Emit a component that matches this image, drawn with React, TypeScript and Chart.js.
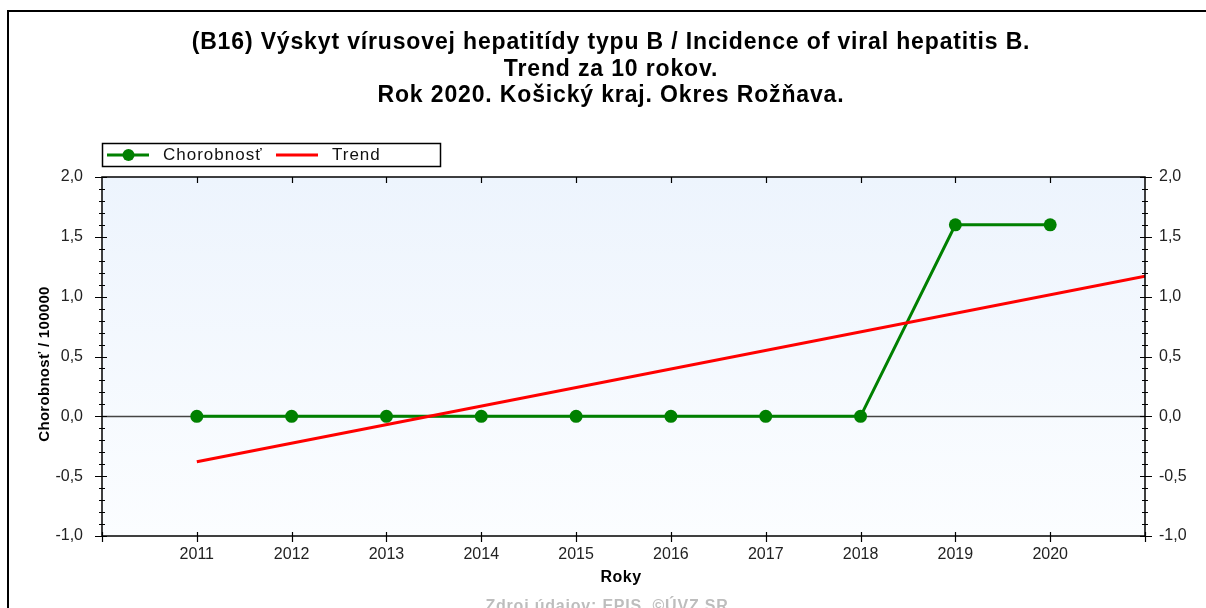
import React, { useEffect, useRef } from "react";
import { Chart, registerables } from "chart.js";

Chart.register(...registerables);

const titleLines = [
  "(B16) Výskyt vírusovej hepatitídy typu B / Incidence of viral hepatitis B.",
  "Trend za 10 rokov.",
  "Rok 2020. Košický kraj. Okres Rožňava.",
];
const years = [2011, 2012, 2013, 2014, 2015, 2016, 2017, 2018, 2019, 2020];
const incidence = [0, 0, 0, 0, 0, 0, 0, 0, 1.6, 1.6];
const trendYears = [2011, 2021];
const trendValues = [-0.38, 1.17];
const seriesNames = ["Chorobnosť", "Trend"];
const yAxisTitle = "Chorobnosť / 100000";
const xAxisTitle = "Roky";
const footerText = "Zdroj údajov: EPIS, ©ÚVZ SR";

const GREEN = "#008000";
const RED = "#FF0000";
const FONT = "'Liberation Sans', Arial, sans-serif";

const fmt = (v: number) => v.toFixed(1).replace(".", ",");

const decor = {
  id: "decor",
  beforeDatasetsDraw(chart: any) {
    const { ctx, chartArea } = chart;
    const { left, right, top, bottom } = chartArea;
    ctx.save();
    const g = ctx.createLinearGradient(0, top, 0, bottom);
    g.addColorStop(0, "#EDF4FD");
    g.addColorStop(1, "#FBFDFF");
    ctx.fillStyle = g;
    ctx.fillRect(left, top, right - left, bottom - top);
    const y0 = Math.round(chart.scales.y.getPixelForValue(0)) + 0.5;
    ctx.strokeStyle = "#444";
    ctx.lineWidth = 1.5;
    ctx.beginPath();
    ctx.moveTo(left, y0);
    ctx.lineTo(right, y0);
    ctx.stroke();
    ctx.restore();
  },
  afterDraw(chart: any) {
    const { ctx, chartArea } = chart;
    const { left, right, top, bottom } = chartArea;
    const ys = chart.scales.y;
    const xs = chart.scales.x;
    ctx.save();
    // outer frame
    ctx.strokeStyle = "#000";
    ctx.lineWidth = 2;
    ctx.beginPath();
    ctx.moveTo(8, 612);
    ctx.lineTo(8, 11);
    ctx.lineTo(1210, 11);
    ctx.stroke();

    // plot frame
    ctx.lineWidth = 1.5;
    ctx.strokeStyle = "#000";
    ctx.strokeRect(left, top, right - left, bottom - top);

    // y ticks (major every 0.5, minor every 0.1)
    ctx.lineWidth = 1.2;
    for (let i = -10; i <= 20; i++) {
      const v = i / 10;
      const py = Math.round(ys.getPixelForValue(v)) + 0.5;
      const major = i % 5 === 0;
      const len = major ? 7 : 3;
      ctx.beginPath();
      ctx.moveTo(left - len, py);
      ctx.lineTo(left + (major ? 5 : 3), py);
      ctx.moveTo(right - (major ? 5 : 3), py);
      ctx.lineTo(right + len, py);
      ctx.stroke();
    }
    // x ticks
    for (let yr = 2010; yr <= 2021; yr++) {
      const px = Math.round(xs.getPixelForValue(yr)) + 0.5;
      ctx.beginPath();
      ctx.moveTo(px, bottom - 4);
      ctx.lineTo(px, bottom + 6);
      if (yr > 2010 && yr < 2021) {
        ctx.moveTo(px, top);
        ctx.lineTo(px, top + 6);
      }
      ctx.stroke();
    }

    // title
    ctx.fillStyle = "#000";
    ctx.font = `bold 23px ${FONT}`;
    (ctx as any).letterSpacing = "0.85px";
    ctx.textAlign = "center";
    ctx.textBaseline = "middle";
    titleLines.forEach((t, i) => ctx.fillText(t, 611, 43 + i * 26.5));

    // legend
    (ctx as any).letterSpacing = "0px";
    ctx.fillStyle = "#fff";
    ctx.fillRect(102, 143, 338, 23);
    ctx.strokeStyle = "#000";
    ctx.lineWidth = 1.5;
    ctx.strokeRect(102.5, 143.5, 338, 23);
    ctx.lineWidth = 3;
    ctx.strokeStyle = GREEN;
    ctx.beginPath();
    ctx.moveTo(107, 155);
    ctx.lineTo(149, 155);
    ctx.stroke();
    ctx.fillStyle = GREEN;
    ctx.beginPath();
    ctx.arc(128.5, 155, 6, 0, Math.PI * 2);
    ctx.fill();
    ctx.strokeStyle = RED;
    ctx.beginPath();
    ctx.moveTo(276, 155);
    ctx.lineTo(318, 155);
    ctx.stroke();
    ctx.fillStyle = "#111";
    ctx.font = `17px ${FONT}`;
    (ctx as any).letterSpacing = "1px";
    ctx.textAlign = "left";
    ctx.fillText(seriesNames[0], 163, 155.5);
    ctx.fillText(seriesNames[1], 332, 155.5);

    // axis titles
    ctx.fillStyle = "#000";
    ctx.font = `bold 15px ${FONT}`;
    (ctx as any).letterSpacing = "0.3px";
    ctx.textAlign = "center";
    ctx.save();
    ctx.translate(45, 364);
    ctx.rotate(-Math.PI / 2);
    ctx.fillText(yAxisTitle, 0, 0);
    ctx.restore();
    ctx.font = `bold 16px ${FONT}`;
    (ctx as any).letterSpacing = "0.5px";
    ctx.fillText(xAxisTitle, 621, 578);

    // footer
    ctx.fillStyle = "#BDBDBD";
    ctx.font = `bold 16px ${FONT}`;
    (ctx as any).letterSpacing = "0.8px";
    ctx.textBaseline = "alphabetic";
    ctx.fillText(footerText, 607, 611);
    (ctx as any).letterSpacing = "0px";
    ctx.restore();
  },
};

export default function App() {
  const ref = useRef<HTMLCanvasElement | null>(null);
  useEffect(() => {
    document.body.style.margin = "0";
    const canvas = ref.current!;
    const tickFont = { family: FONT, size: 16 };
    const chart = new Chart(canvas, {
      type: "line",
      data: {
        datasets: [
          {
            label: seriesNames[1],
            data: trendYears.map((x, i) => ({ x, y: trendValues[i] })),
            borderColor: RED,
            borderWidth: 3,
            pointRadius: 0,
            fill: false,
            tension: 0,
          },
          {
            label: seriesNames[0],
            data: years.map((x, i) => ({ x, y: incidence[i] })),
            borderColor: GREEN,
            backgroundColor: GREEN,
            borderWidth: 3,
            pointRadius: 6.5,
            pointBorderWidth: 0,
            pointBackgroundColor: GREEN,
            fill: false,
            tension: 0,
          },
        ],
      },
      options: {
        animation: false,
        responsive: false,
        devicePixelRatio: 1,
        layout: { padding: { top: 177, left: 0, right: 0, bottom: 0 } },
        plugins: {
          legend: { display: false },
          title: { display: false },
          tooltip: { enabled: false },
        },
        scales: {
          x: {
            type: "linear",
            position: "bottom",
            min: 2010,
            max: 2021,
            grid: { display: false, drawTicks: false },
            border: { display: false },
            ticks: {
              stepSize: 1,
              autoSkip: false,
              maxRotation: 0,
              padding: 9,
              color: "#222",
              font: tickFont,
              callback: (v: any) => (v >= 2011 && v <= 2020 ? String(v) : ""),
            },
            afterFit: (s: any) => {
              s.height = 72;
            },
          },
          y: {
            position: "left",
            min: -1,
            max: 2,
            grid: { display: false, drawTicks: false },
            border: { display: false },
            ticks: {
              stepSize: 0.5,
              padding: 19,
              color: "#222",
              font: tickFont,
              callback: (v: any) => fmt(Number(v)),
            },
            afterFit: (s: any) => {
              s.width = 102;
            },
          },
          y2: {
            position: "right",
            min: -1,
            max: 2,
            grid: { display: false, drawTicks: false },
            border: { display: false },
            ticks: {
              stepSize: 0.5,
              padding: 14,
              color: "#222",
              font: tickFont,
              callback: (v: any) => fmt(Number(v)),
            },
            afterFit: (s: any) => {
              s.width = 61;
            },
          },
        },
      },
      plugins: [decor],
    } as any);
    return () => chart.destroy();
  }, []);
  return (
    <div style={{ position: "absolute", left: 0, top: 0, width: 1206, height: 608 }}>
      <canvas ref={ref} width={1206} height={608} style={{ display: "block" }} />
    </div>
  );
}
